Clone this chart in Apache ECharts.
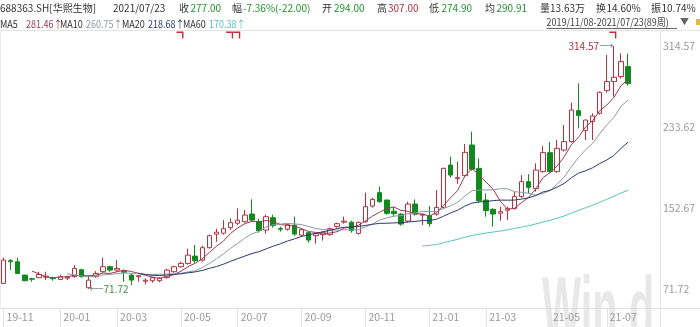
<!DOCTYPE html>
<html><head><meta charset="utf-8">
<script src="https://cdn.jsdelivr.net/npm/echarts@6/dist/echarts.min.js"></script>
<style>html,body{margin:0;padding:0;background:#fff}#c{width:700px;height:327px}</style>
</head><body><div id="c"></div>
<script>
// ---- data (weekly bars, 2019/11/08 - 2021/07/23, 89 weeks) ----
const weeks = ['2019-11-08','2019-11-15','2019-11-22','2019-11-29','2019-12-06','2019-12-13','2019-12-20','2019-12-27','2020-01-03','2020-01-10',
'2020-01-17','2020-01-23','2020-02-07','2020-02-14','2020-02-21','2020-02-28','2020-03-06','2020-03-13','2020-03-20','2020-03-27',
'2020-04-03','2020-04-10','2020-04-17','2020-04-24','2020-04-30','2020-05-08','2020-05-15','2020-05-22','2020-05-29','2020-06-05',
'2020-06-12','2020-06-19','2020-06-24','2020-07-03','2020-07-10','2020-07-17','2020-07-24','2020-07-31','2020-08-07','2020-08-14',
'2020-08-21','2020-08-28','2020-09-04','2020-09-11','2020-09-18','2020-09-25','2020-09-30','2020-10-09','2020-10-16','2020-10-23',
'2020-10-30','2020-11-06','2020-11-13','2020-11-20','2020-11-27','2020-12-04','2020-12-11','2020-12-18','2020-12-25','2020-12-31',
'2021-01-08','2021-01-15','2021-01-22','2021-01-29','2021-02-05','2021-02-10','2021-02-19','2021-02-26','2021-03-05','2021-03-12',
'2021-03-19','2021-03-26','2021-04-02','2021-04-09','2021-04-16','2021-04-23','2021-04-30','2021-05-07','2021-05-14','2021-05-21',
'2021-05-28','2021-06-04','2021-06-11','2021-06-18','2021-06-25','2021-07-02','2021-07-09','2021-07-16','2021-07-23'];
const opens = [77.3,100,98.9,85.6,82,83,83.5,82.6,81.3,82.5, 84,91,73,84,89,94,90.6,89.5,85.6,84,
 79.5,80,80,83.3,89,94,97.3,104.6,100.6,113, 126.5,127.5,133,137.5,139,146.6,139,130.6,143,132,
 131.5,135.5,125.6,128,125,126,126,134,138.5,138.5, 127.3,139,154.6,168,160.6,149.5,146.6,139.6,156.6,145.5,
 145,146.5,153,195.6,182,185,215.6,192.3,160.6,151.3, 147.5,150.5,152.3,164,179,172,189,208,189,210.6,
 219,250,230,239,247.3,270,279,284,294];
const closes = [100.6,99,87.3,80,81.5,86.3,84.5,82,84,83.5, 92.3,84,80.6,87.3,94,90.6,92.3,88.5,80.6,85,
 80.5,83,82.5,90.6,94,97.3,105.6,100,113,125, 128.5,132,138,140.5,145.6,140.6,130,144,135,131.5,
 136,126.6,131,120.6,127,128,132,137,139.5,130, 138.3,154,161.3,159,147.3,147,136.6,156.6,146.6,146.5,
 137,153.3,192.3,185.6,183,208.3,191.5,160,150,146.6, 149,152,164,179,173.3,190.6,208,189,212.3,219,
 250.6,245,240.6,244.6,268.3,279,283.3,299,277];
const lows = [77,90.6,87,79.5,79,82.5,80.6,80,80.6,80.6, 83,83,71.72,83,88,89,89,79,75.6,79,
 76.3,78,78.5,82,88,93,96,98,99,112, 119,126,131,135.5,138,139,128,127,133,129,
 130,125,124,118,117,120,125,133,137,128, 126,138,153,158,146,144,135,138,145,135.6,
 134,145,152,183,176.6,184,190,158,144,134, 140,140.6,151,163,167,169,188,188,188,209,
 218,232.3,220.6,220.6,246,268,264,282,274.9];
const highs = [103,101.6,103,86,83,89,89,84,86,85, 95.6,92,85.6,89.6,103,95,100.6,91,87,85.6,
 82.3,84,83.5,92,95,99,112,115.6,115,126, 132,140.6,142.3,152.3,150.6,161.3,142,146,146,134,
 137,144,132,129,127.5,129.5,133,138,144,140, 139,168,163,174,161,154,147.5,159,161.3,147,
 154.6,170.6,193,204,199,216.6,229,202,167.3,152.5, 154,154,169,185.6,186.6,197.3,214.6,218.6,220.6,235.6,
 258,277.3,241,247.3,269,305.6,314.57,307.3,307];
const padWeeks = ['+1','+2','+3','+4'];           // empty slots on the right of the last bar
const monthLabels = ['19-11','20-01','20-03','20-05','20-07','20-09','20-11','21-01','21-03','21-05','21-07'];
const yTicks = [71.72, 152.67, 233.62, 314.57];
const maPeriods = [5, 10, 20, 60];
const maNames = ['MA5','MA10','MA20','MA60'];
const maLatest = ['281.46','260.75','218.68','170.38'];
const eventWeeks = ['2020-05-08','2020-06-24','2020-07-03','2021-07-09'];

// ---- styles ----
const UP = '#b5323f', DOWN = '#12891f';
const maColors = ['#9c3a50', '#8e98a4', '#2c3a6c', '#58c3c5'];
const FONT = 'Noto Sans CJK SC';
const FS = 10;

const categories = weeks.concat(padWeeks);
const ohlc = weeks.map((w, i) => [opens[i], closes[i], lows[i], highs[i]]);
function movingAverage(n) {
  return closes.map((c, i) => {
    if (i < n - 1) return '-';
    let s = 0; for (let k = i - n + 1; k <= i; k++) s += closes[k];
    return +(s / n).toFixed(3);
  });
}
const ym = d => d.length === 10 ? d.slice(2, 7) : '';
const isMonthStart = i => {
  const m = ym(categories[i]);
  return monthLabels.indexOf(m) >= 0 && (i === 0 || ym(categories[i - 1]) !== m);
};
const hiVal = Math.max(...highs), hiIdx = highs.indexOf(hiVal);
const loVal = Math.min(...lows), loIdx = lows.indexOf(loVal);

const chart = echarts.init(document.getElementById('c'), null, {renderer: 'canvas'});

function txt(x, y, text, fill, size, sx) {
  return {type: 'text', x: x, y: y, silent: true, scaleX: sx || 1,
    style: {text: text, fill: fill, fontSize: size || FS, fontFamily: FONT, verticalAlign: 'middle', align: 'left'}};
}
const G = '#22952e', R = '#b3303c', K = '#333';
const graphics = [
  // header row
  txt(0, 8, '688363.SH[华熙生物]', K), txt(113, 8, '2021/07/23', K),
  txt(179, 8, '收', K), txt(190.5, 8, '277.00', G),
  txt(232, 8, '幅', K), txt(243, 8, '-7.36%(-22.00)', G),
  txt(322, 8, '开', K), txt(334, 8, '294.00', G),
  txt(377, 8, '高', K), txt(388, 8, '307.00', R),
  txt(429, 8, '低', K), txt(441.5, 8, '274.90', G),
  txt(485, 8, '均', K), txt(496.5, 8, '290.91', G),
  txt(540, 8, '量13.63万', K),
  txt(596, 8, '换', K), txt(606.5, 8, '14.60%', K),
  txt(651, 8, '振', K), txt(661.5, 8, '10.74%', K),
  // range selector
  txt(546.5, 22, '2019/11/08-2021/07/23(89周)', '#444', 10, 0.9),
  {type: 'line', silent: true, shape: {x1: 546.5, y1: 28.5, x2: 677, y2: 28.5}, style: {stroke: '#666', lineWidth: 1}},
  txt(680, 22, '▼', '#666', 9),
  {type: 'rect', silent: true, shape: {x: 696, y: 19, width: 4, height: 6}, style: {fill: '#e6b93a'}},
  // frame lines
  {type: 'line', silent: true, shape: {x1: 0, y1: 30.5, x2: 700, y2: 30.5}, style: {stroke: '#e4e4e4', lineWidth: 1}},
  {type: 'line', silent: true, shape: {x1: 0, y1: 308.5, x2: 700, y2: 308.5}, style: {stroke: '#dedede', lineWidth: 1}},
  {type: 'line', silent: true, shape: {x1: 660.5, y1: 30, x2: 660.5, y2: 327}, style: {stroke: '#e4e4e4', lineWidth: 1}},
  {type: 'line', silent: true, shape: {x1: 0.5, y1: 30, x2: 0.5, y2: 308}, style: {stroke: '#eeeeee', lineWidth: 1}},
  // watermark
  {type: 'text', silent: true, z: -10, x: 542, y: 315, scaleX: 0.46, scaleY: 1,
   style: {text: 'Win.d', fill: '#e8e8e8', fontSize: 90, fontWeight: 'bold', fontFamily: 'Liberation Sans',
     verticalAlign: 'middle', align: 'left'}}
];
// MA legend row
const legendX = [[0, 26], [60, 86], [122, 148], [183, 209]];
maNames.forEach((n, k) => {
  graphics.push(txt(legendX[k][0], 24, n, K, 10.5, 0.86));
  graphics.push(txt(legendX[k][1], 24, maLatest[k] + '↑', maColors[k], 10.5, 0.86));
});

const eventPath = 'path://M0,0 L7,0 L7,7 L5.6,7 L5.6,1.4 L0,1.4 Z';
const series = [{
  type: 'candlestick',
  data: ohlc,
  barWidth: 5,
  z: 3,
  itemStyle: {color: '#ffffff', color0: DOWN, borderColor: UP, borderColor0: DOWN, borderWidth: 1},
  markPoint: {
    silent: true,
    animation: false,
    data: [
      {coord: [hiIdx, hiVal], symbol: 'circle', symbolSize: 1, itemStyle: {color: 'rgba(0,0,0,0)'},
       label: {show: true, position: 'left', distance: 0, formatter: '{a|' + hiVal.toFixed(2) + '}{b|⟶}',
         rich: {a: {color: '#a8323e', fontSize: FS, fontFamily: FONT}, b: {color: '#6f8aa5', fontSize: 10, fontFamily: 'DejaVu Sans'}}}},
      {coord: [loIdx, loVal], symbol: 'circle', symbolSize: 1, itemStyle: {color: 'rgba(0,0,0,0)'},
       label: {show: true, position: 'right', distance: 0, formatter: '{b|⟵}{a|' + loVal.toFixed(2) + '}',
         rich: {a: {color: '#3a8f3a', fontSize: FS, fontFamily: FONT}, b: {color: '#7a8f7a', fontSize: 10, fontFamily: 'DejaVu Sans'}}}}
    ].concat(eventWeeks.map(w => ({
      coord: [weeks.indexOf(w), yTicks[yTicks.length - 1]], symbol: eventPath, symbolSize: [7, 7],
      symbolOffset: [-1, -11], itemStyle: {color: '#c0303a'}, label: {show: false}
    })))
  }
}].concat(maPeriods.map((p, k) => ({
  type: 'line', name: maNames[k], data: movingAverage(p), showSymbol: false, symbol: 'none', z: 4,
  lineStyle: {color: maColors[k], width: 1}, silent: true
})));

chart.setOption({
  animation: false,
  backgroundColor: '#fff',
  textStyle: {fontFamily: FONT},
  grid: {left: 0, right: 40, top: 46, bottom: 38, containLabel: false},
  xAxis: {
    type: 'category', data: categories, boundaryGap: true, offset: 19,
    axisLine: {show: false},
    axisTick: {show: true, alignWithLabel: true, length: 19, interval: (i) => isMonthStart(i), lineStyle: {color: '#e2e2e2'}},
    axisLabel: {show: true, interval: (i) => isMonthStart(i), formatter: v => ym(v), align: 'left', margin: 4,
      padding: [0, 0, 0, 3], color: '#9a9a9a', fontSize: 10.5, fontFamily: FONT},
    splitLine: {show: false}
  },
  yAxis: {
    type: 'value', position: 'right', scale: true,
    min: yTicks[0], max: yTicks[yTicks.length - 1], interval: +(yTicks[1] - yTicks[0]).toFixed(2),
    axisLine: {show: false}, axisTick: {show: false}, splitLine: {show: false},
    axisLabel: {margin: 3, color: '#9a9a9a', fontSize: 10.5, fontFamily: FONT, formatter: v => v.toFixed(2)}
  },
  graphic: graphics,
  series: series
});
</script></body></html>
